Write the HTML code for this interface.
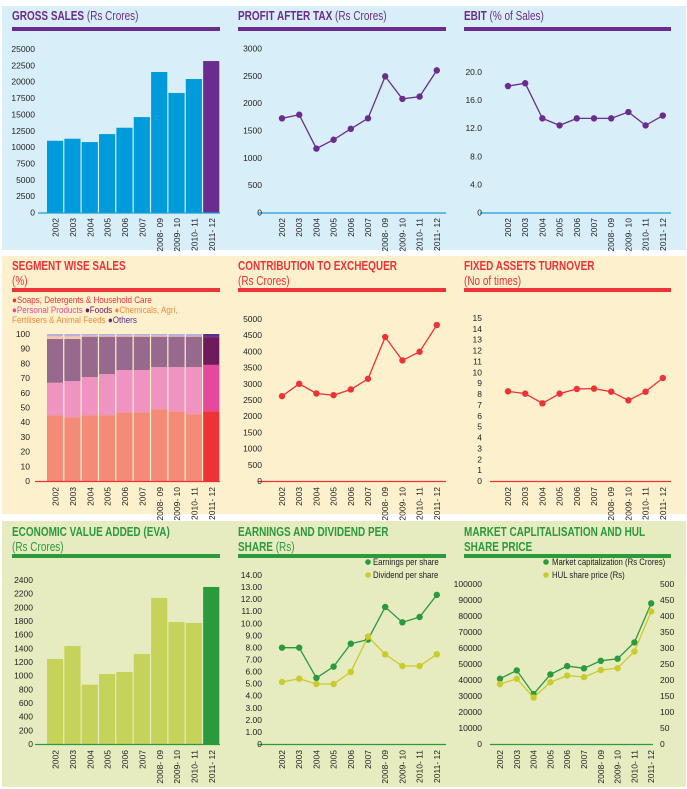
<!DOCTYPE html>
<html><head><meta charset="utf-8">
<style>
html,body{margin:0;padding:0;background:#fff;}
svg{display:block;font-family:"Liberation Sans Narrow","Liberation Sans",sans-serif;}
</style></head>
<body>
<svg id="c" width="687" height="789" viewBox="0 0 687 789" xmlns="http://www.w3.org/2000/svg">
<rect x="2" y="6" width="684" height="244" fill="#d8eef9"/>
<rect x="2" y="256" width="684" height="258" fill="#fdf0cc"/>
<rect x="2" y="521" width="684" height="266" fill="#e6ebc0"/>
</svg>
<script>
const years = ["2002","2003","2004","2005","2006","2007","2008- 09","2009- 10","2010- 11","2011- 12"];
const grossSales = [10970,11280,10770,11990,12960,14590,21480,18270,20410,23160];
const grossTicks = [0,2500,5000,7500,10000,12500,15000,17500,20000,22500,25000];
const patValues = [1723,1789,1169,1331,1530,1723,2490,2078,2120,2600];
const patTicks = [0,500,1000,1500,2000,2500,3000];
const ebitValues = [18.0,18.4,13.4,12.4,13.4,13.4,13.4,14.3,12.4,13.8];
const ebitTicks = ["0","4.0","8.0","12.0","16.0","20.0"];
const segSoaps = [44.8,43.4,44.8,44.8,46.8,46.8,48.9,47.5,45.5,47.5];
const segPersonal = [22.0,24.6,25.9,27.9,28.7,28.7,28.6,30.0,32.0,31.5];
const segFoods = [29.8,28.6,27.5,25.5,22.7,22.7,20.7,20.7,20.7,18.9];
const segChemicals = [1.8,1.8,0.6,0.6,0.6,0.6,0.6,0.2,0.2,0.1];
const segTicks = [0,10,20,30,40,50,60,70,80,90,100];
const exchequerValues = [2619,3000,2701,2649,2825,3155,4443,3722,3990,4814];
const exchequerTicks = [0,500,1000,1500,2000,2500,3000,3500,4000,4500,5000];
const fatValues = [8.25,8.04,7.15,8.04,8.47,8.5,8.22,7.42,8.22,9.48];
const fatTicks = [0,1,2,3,4,5,6,7,8,9,10,11,12,13,14,15];
const evaValues = [1244,1434,868,1024,1054,1317,2137,1785,1771,2298];
const evaTicks = [0,200,400,600,800,1000,1200,1400,1600,1800,2000,2200,2400];
const epsValues = [7.98,7.98,5.47,6.41,8.31,8.65,11.35,10.08,10.52,12.35];
const dpsValues = [5.14,5.41,4.97,4.97,5.97,8.9,7.43,6.46,6.46,7.43];
const epsTicks = ["0","1.00","2.00","3.00","4.00","5.00","6.00","7.00","8.00","9.00","10.00","11.00","12.00","13.00","14.00"];
const mcapValues = [40800,46000,31200,43500,48700,47300,52000,53300,63500,87900];
const priceValues = [187,204,145,193,214,209,231,237,289,414];
const mcapTicks = [0,10000,20000,30000,40000,50000,60000,70000,80000,90000,100000];
const priceTicks = [0,50,100,150,200,250,300,350,400,450,500];

const svg = document.getElementById('c');
const NS = 'http://www.w3.org/2000/svg';
function mk(tag, attrs, parent){
  const e = document.createElementNS(NS, tag);
  for (const k in attrs) e.setAttribute(k, attrs[k]);
  (parent||svg).appendChild(e);
  return e;
}
function txt(s, x, y, size, fill, anchor, weight, parent){
  const t = mk('text', {x:x, y:y, 'font-size':size, fill:fill, 'text-anchor':anchor||'start', 'font-weight':weight||'normal'}, parent);
  t.textContent = s;
  return t;
}
// line: array of [text, bold]
function headLine(parts, x, y, color, parent){
  const t = mk('text', {x:0, y:0, 'font-size':12.5, fill:color, transform:'translate('+x+','+y+') scale(0.8,1)'}, parent);
  parts.forEach(p => { const s = mk('tspan', {'font-weight':p[1]?'bold':'normal'}, t); s.textContent = p[0]; });
}
function header(x, w, y1, line1, line2, color, barY, name){
  const g = mk('g', {});
  
  
  headLine(line1, x, y1, color, g);
  if (line2) headLine(line2, x, y1+15, color, g);
  mk('rect', {x:x, y:barY, width:w, height:4, fill:color}, g);
}
function yS(v, max, y0, yTop){ return y0 - v/max*(y0-yTop); }
function axisLabels(ticks, max, y0, yTop, xr, anchor){
  const g = mk('g', {});
  
  
  ticks.forEach(t => {
    txt(String(t), xr, yS(parseFloat(t), max, y0, yTop)+3, 8.5, '#222', anchor||'end', 'normal', g);
  });
}
function xLabels(xs, y0){
  const g = mk('g', {});
  
  
  years.forEach((yr, i) => {
    const t = mk('text', {x:0, y:0, 'font-size':8.5, fill:'#222', 'text-anchor':'end', transform:'translate('+(xs[i]+3)+','+(y0+5)+') rotate(-90)'}, g);
    t.textContent = yr;
  });
}
function barChart(vals, max, x0, x1, y0, yTop, color, lastColor, name){
  const step = (x1-x0)/vals.length;
  const xs = [];
  vals.forEach((v, i) => {
    const y = yS(v, max, y0, yTop);
    const r = mk('rect', {x:x0+i*step, y:y, width:step-1.2, height:y0-y, fill: i===vals.length-1?lastColor:color});
    
    
    xs.push(x0+i*step+step/2);
  });
  return xs;
}
function lineSeries(vals, max, x0, step, y0, yTop, color, name){
  const pts = vals.map((v,i)=>[x0+i*step, yS(v, max, y0, yTop)]);
  const p = mk('polyline', {points: pts.map(p=>p.join(',')).join(' '), fill:'none', stroke:color, 'stroke-width':1.3});
  
  
  pts.forEach(pt => {
    const c = mk('circle', {cx:pt[0], cy:pt[1], r:3.2, fill:color});
    
    
  });
  return pts.map(p=>p[0]);
}
function axisLine(x0, x1, y, color){
  const l = mk('line', {x1:x0, x2:x1, y1:y, y2:y, stroke:color, 'stroke-width':1.2});
  
  
}
function legendText(s, x, y, parent){
  const t = mk('text', {x:0, y:0, 'font-size':9.5, fill:'#222', transform:'translate('+x+','+y+') scale(0.82,1)'}, parent);
  t.textContent = s;
}
const PUR = '#6a2c8e', BLUE = '#1b9fd9', RED = '#ee3338', GRN = '#2a9a3d';

// TOP ROW
header(12, 208, 20, [['GROSS SALES ',1],['(Rs Crores)',0]], null, PUR, 27, 'gross-sales-header');
header(238, 208, 20, [['PROFIT AFTER TAX ',1],['(Rs Crores)',0]], null, PUR, 27, 'pat-header');
header(464, 207, 20, [['EBIT ',1],['(% of Sales)',0]], null, PUR, 27, 'ebit-header');

let xs = barChart(grossSales, 25000, 47, 220.5, 212.5, 49, '#009bdb', PUR, 'gross-sales');
axisLine(38, 220, 213, BLUE);
axisLabels(grossTicks, 25000, 212.5, 49, 35);
xLabels(xs, 213);

axisLine(258, 446, 213, BLUE);
axisLabels(patTicks, 3000, 212.5, 48.5, 262);
xs = lineSeries(patValues, 3000, 282, 17.2, 212.5, 48.5, PUR, 'pat');
xLabels(xs, 213);

axisLine(480, 671, 213, BLUE);
axisLabels(ebitTicks, 20, 212.5, 72, 482);
xs = lineSeries(ebitValues, 20, 508, 17.2, 212.5, 72, PUR, 'ebit');
xLabels(xs, 213);

// MIDDLE ROW
header(12, 208, 270, [['SEGMENT WISE SALES',1]], [['(%)',0]], RED, 288, 'segment-header');
header(238, 208, 270, [['CONTRIBUTION TO EXCHEQUER',1]], [['(Rs Crores)',0]], RED, 288, 'exchequer-header');
header(464, 207, 270, [['FIXED ASSETS TURNOVER',1]], [['(No of times)',0]], RED, 288, 'fat-header');

(function(){
  const g = mk('g', {});
  
  
  const items = [
    [[ '●Soaps, Detergents & Household Care', RED]],
    [[ '●Personal Products ', '#e5499c'], ['●Foods ', '#6d1b5c'], ['●Chemicals, Agri,', '#f08a3c']],
    [[ 'Fertilisers & Animal Feeds ', '#f08a3c'], ['●Others', '#5b2e8e']]
  ];
  [303, 313, 323].forEach((y, r) => {
    const t = mk('text', {x:0, y:0, 'font-size':9.5, transform:'translate(12,'+y+') scale(0.85,1)'}, g);
    items[r].forEach(it => { const s = mk('tspan', {fill:it[1]}, t); s.textContent = it[0]; });
  });
})();

const segColors = ['#f48b79','#ef93c1','#97698c','#f7c6a8','#bbaedb'];
const segLast = [RED,'#e5499c','#6d1b5c','#6d1b5c','#5b2e8e'];
(function(){
  const x0 = 47, x1 = 220.5, y0 = 481, yTop = 334, step = (x1-x0)/years.length;
  years.forEach((yr, i) => {
    const layers = [segSoaps[i], segPersonal[i], segFoods[i], segChemicals[i]];
    const other = 100 - layers.reduce((a,b)=>a+b,0);
    layers.push(other);
    let cum = 0;
    layers.forEach((v, k) => {
      const yb = yS(cum, 100, y0, yTop), yt = yS(cum+v, 100, y0, yTop);
      const r = mk('rect', {x:x0+i*step, y:yt, width:step-1.2, height:yb-yt, fill: i===years.length-1?segLast[k]:segColors[k]});
      
      
      cum += v;
    });
  });
  axisLine(35, 220, 481.5, RED);
  axisLabels(segTicks, 100, 481, 334, 30);
  xLabels(years.map((y,i)=>x0+i*step+step/2), 482);
})();

axisLine(258, 446, 481.5, RED);
axisLabels(exchequerTicks, 5000, 481, 319, 262);
xs = lineSeries(exchequerValues, 5000, 282, 17.2, 481, 319, RED, 'exchequer');
xLabels(xs, 482);

axisLine(490, 671, 481.5, RED);
axisLabels(fatTicks, 15, 481, 318, 482);
xs = lineSeries(fatValues, 15, 508, 17.2, 481, 318, RED, 'fat');
xLabels(xs, 482);

// BOTTOM ROW
header(12, 208, 536, [['ECONOMIC VALUE ADDED (EVA)',1]], [['(Rs Crores)',0]], GRN, 554, 'eva-header');
header(238, 208, 536, [['EARNINGS AND DIVIDEND PER',1]], [['SHARE ',1],['(Rs)',0]], GRN, 554, 'eps-header');
header(464, 207, 536, [['MARKET CAPLITALISATION AND HUL',1]], [['SHARE PRICE',1]], GRN, 554, 'mcap-header');

xs = barChart(evaValues, 2400, 47, 220.5, 744, 580, '#c6d35b', GRN, 'eva');
axisLine(35, 220, 744.5, GRN);
axisLabels(evaTicks, 2400, 744, 580, 33);
xLabels(xs, 745);

axisLine(258, 446, 744.5, GRN);
axisLabels(epsTicks, 14, 744, 575, 262);
xs = lineSeries(epsValues, 14, 282, 17.2, 744, 575, GRN, 'eps');
lineSeries(dpsValues, 14, 282, 17.2, 744, 575, '#c9cc2a', 'dps');
xLabels(xs, 745);
(function(){
  const g = mk('g', {});
  
  
  mk('circle', {cx:368, cy:562, r:2.8, fill:GRN}, g);
  legendText('Earnings per share', 373, 565, g);
  mk('circle', {cx:368, cy:575, r:2.8, fill:'#c9cc2a'}, g);
  legendText('Dividend per share', 373, 578, g);
})();

axisLine(490, 653, 744.5, GRN);
axisLabels(mcapTicks, 100000, 744, 584, 482);
axisLabels(priceTicks, 500, 744, 584, 660, 'start');
xs = lineSeries(mcapValues, 100000, 500, 16.8, 744, 584, GRN, 'mcap');
lineSeries(priceValues, 500, 500, 16.8, 744, 584, '#c9cc2a', 'share-price');
xLabels(xs, 745);
(function(){
  const g = mk('g', {});
  
  
  mk('circle', {cx:546, cy:562, r:2.8, fill:GRN}, g);
  legendText('Market capitalization (Rs Crores)', 552, 565, g);
  mk('circle', {cx:546, cy:575, r:2.8, fill:'#c9cc2a'}, g);
  legendText('HUL share price (Rs)', 552, 578, g);
})();
</script>
</body></html>
